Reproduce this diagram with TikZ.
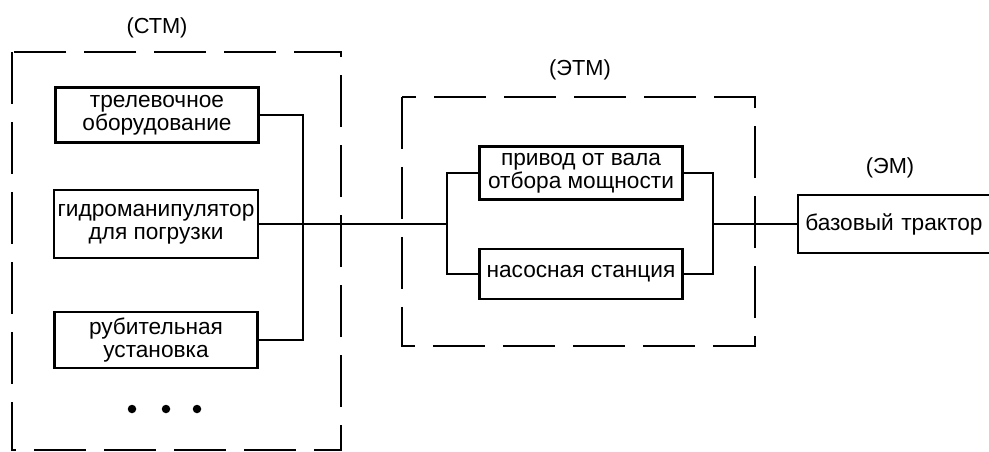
\documentclass[tikz,border=0pt]{standalone}
\usepackage{fontspec}
\setmainfont{Liberation Sans}
\begin{document}
\begin{tikzpicture}[x=0.02cm,y=-0.02cm,
	  blk/.style={draw,line width=1.4pt,minimum width=4.06cm,inner sep=2pt,align=center,
	    font=\fontsize{12.9}{13.2}\selectfont},
	  grp/.style={line width=1.4pt,dash pattern=on 1.05cm off 0.35cm},
	  ttl/.style={font=\fontsize{12.4}{13}\selectfont},
	  wire/.style={line width=1.4pt}]
	  \useasboundingbox (0,0) rectangle (989,452);
	  % groups
	  \draw[grp] (12,52) rectangle (341,450);
	  \draw[grp] (402,97) rectangle (755,346);
	  \node[ttl] (stm) at (157,28) {(СТМ)};
	  \node[ttl] (etm) at (580,70) {(ЭТМ)};
	  \node[ttl] (em) at (890,168) {(ЭМ)};
	  % blocks
	  \node[blk,minimum height=1.1cm] (trel) at (157,115) {трелевочное\\оборудование};
	  \node[blk,minimum height=1.36cm] (gidro) at (156,224) {гидроманипулятор\\для погрузки};
	  \node[blk,minimum height=1.12cm] (rub) at (156,340) {рубительная\\установка};
	  \node[blk,minimum height=1.06cm] (privod) at (581,173) {привод от вала\\отбора мощности};
	  \node[blk,minimum height=1.0cm] (nasos) at (581,274) {насосная станция};
	  \node[blk,minimum height=1.16cm,text width=3.8cm,inner sep=4pt,align=left,anchor=west] (trak) at (797,224) {базовый трактор};
	  \foreach \x in {132,166,197}
	    \fill (\x,409) circle[radius=0.085cm];
	  % links
	  \coordinate (busL) at (303,224);
	  \coordinate (splitL) at (447,224);
	  \coordinate (splitR) at (713,224);
	  \draw[wire] (trel.east) -| (busL);
	  \draw[wire] (rub.east) -| (busL);
	  \draw[wire] (gidro.east) -- (splitL);
	  \draw[wire] (privod.west) -| (splitL) |- (nasos.west);
	  \draw[wire] (privod.east) -| (splitR) |- (nasos.east);
	  \draw[wire] (splitR) -- (trak.west);
	\end{tikzpicture}
\end{document}
